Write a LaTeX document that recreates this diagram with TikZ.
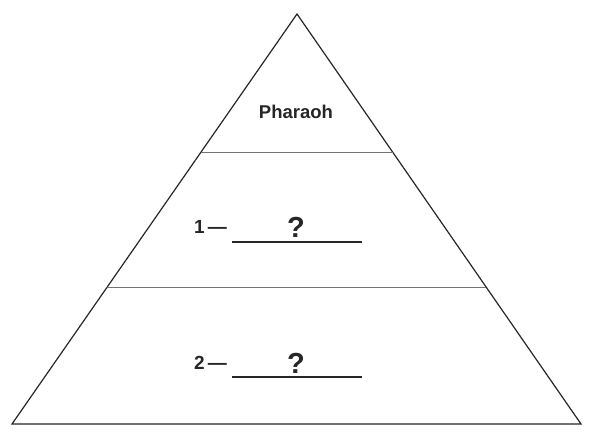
\documentclass[tikz,border=0pt]{standalone}
\usepackage{fontspec}
\setsansfont{Liberation Sans}
\usetikzlibrary{calc}
\begin{document}
\begin{tikzpicture}[x=1pt, y=-1pt, font=\sffamily\bfseries,
          side/.style={draw=black!85, line width=1.2pt, line join=miter},
          tier/.style={draw=black!55, line width=0.7pt},
          blank/.style={draw=black!85, line width=1.2pt},
          lbl/.style={inner sep=0pt, text=black!85, font=\sffamily\bfseries\fontsize{18.5}{18.5}\selectfont},
          num/.style={inner sep=0pt, text=black!85, font=\sffamily\bfseries\fontsize{19}{19}\selectfont},
          qm/.style={inner sep=0pt, text=black!85, font=\sffamily\bfseries\fontsize{29}{29}\selectfont}]
        \useasboundingbox (0,0) rectangle (594,439);
        \coordinate (apex) at (297,14);
        \coordinate (bl) at (12,424);
        \coordinate (br) at (581,424);
        \draw[side] (apex) -- (bl) -- (br) -- cycle;
        % tiers
        \draw[tier] ($(apex)!0.3366!(bl)$) -- ($(apex)!0.3366!(br)$);
        \draw[tier] ($(apex)!0.666!(bl)$) -- ($(apex)!0.666!(br)$);
        \node[lbl, anchor=base] (top) at (296,118) {Pharaoh};
        % blanks
        \node[num, anchor=base east] (n1) at (227,233) {1\,—};
        \coordinate (u1a) at (232,242);
        \coordinate (u1b) at (362,242);
        \draw[blank] (u1a) -- (u1b);
        \node[qm, anchor=base] (q1) at (296,237) {?};
        \node[num, anchor=base east] (n2) at (227,369) {2\,—};
        \coordinate (u2a) at (232,377);
        \coordinate (u2b) at (362,377);
        \draw[blank] (u2a) -- (u2b);
        \node[qm, anchor=base] (q2) at (296,373) {?};
      \end{tikzpicture}
\end{document}
